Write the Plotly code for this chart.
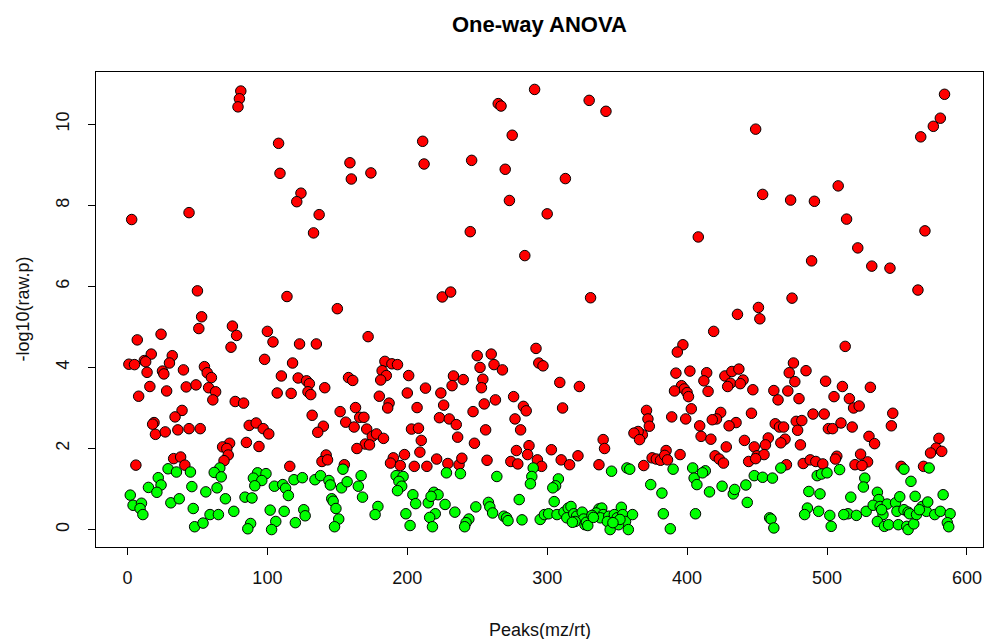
import plotly.graph_objects as go

# Peak index (mz/rt feature number) and -log10 raw p-value from one-way ANOVA
peak_index = [
    81, 80, 79, 3, 44, 50, 53, 51, 75, 78, 74,
    7, 24, 17, 32, 12, 13, 1, 5, 30, 14, 25, 26, 40, 55, 57, 60, 16, 28, 8, 42, 49, 58, 63, 61, 77, 83,
    39, 34, 19, 18, 20, 27, 36, 44, 52, 73, 68, 71, 72, 69, 33, 38, 41, 6,
    29, 35, 45, 66, 62, 67, 22, 24, 15, 21, 46, 56, 64, 2, 4, 10, 9, 11, 31, 37, 47, 70, 76, 59, 65, 48, 54,
    100, 104, 123, 135, 172, 98, 118, 110, 122, 128, 130, 129, 131, 107, 117, 141, 158, 161, 184, 189, 182,
    185, 181, 180, 187, 186, 132, 140, 136, 152, 163, 156, 162, 166, 169, 171, 175, 178, 183, 170, 173, 164,
    85, 87, 92, 97, 101, 94, 142, 139, 143, 116, 155, 190, 188,
    108, 109, 124, 121, 137, 133, 159, 160, 174, 114, 150,
    154, 93, 99, 90, 96, 91, 105, 111, 113, 115, 119, 125, 134, 138, 144, 145, 153, 157, 165, 167, 168, 84,
    89, 146, 147, 149, 151, 148, 102, 112, 106, 103, 120, 126, 127, 88, 86, 179, 177,
    291, 265, 267, 275, 211, 212, 246, 270, 273, 300, 245, 284, 225, 231,
    292, 250, 260, 294, 297, 193, 252, 262, 268, 201, 233, 240, 232, 254, 253, 213, 200, 224, 226, 276, 283,
    285, 255, 263, 207, 247, 223, 230, 235, 236, 277, 281, 256, 203, 208, 210, 209, 248, 198, 195, 205, 214,
    221, 229, 237, 239, 257, 278, 287, 286, 274, 279, 293, 296,
    228, 238, 192, 197, 194, 196, 193, 264, 290, 289, 288, 204, 206, 199, 202, 215, 219, 222, 217, 220, 216,
    218, 227, 234, 244, 242, 241, 249, 258, 259, 261, 269, 271, 272, 280, 282, 295, 298,
    330, 342, 313, 408, 331,
    397, 393, 309, 323, 392, 402, 396, 398, 400, 391, 401, 311, 403, 371, 372, 373, 368, 365, 362, 366, 389,
    399, 303, 310, 316, 322, 340, 341, 337, 369, 375, 378, 381, 385, 384, 386, 395,
    346, 357, 359, 390, 404, 405, 407, 308, 306, 304, 374, 382, 305,
    301, 307, 312, 315, 317, 314, 319, 321, 325, 326, 320, 327, 328, 329, 318,
    337, 339, 335, 340, 338, 344, 343, 345, 348, 350, 353, 354, 356, 351, 358, 361, 352, 347, 332, 333,
    383, 388, 406,
    449, 454, 474, 491, 508, 514, 489, 475, 451, 452, 436, 419, 513,
    476, 473, 477, 485, 414, 412, 415, 427, 432, 437, 440, 431, 429, 438, 447, 462, 465, 472, 480, 499, 505,
    511, 446, 424, 421, 418, 435, 430, 409, 410, 417, 463, 466, 469, 478, 482, 479, 490, 498, 501, 504, 510,
    441, 448, 458, 456, 470, 467, 428, 481, 420, 423, 426, 444, 450, 455, 449, 471, 483, 488, 492, 497, 507,
    506,
    413, 411, 416, 425, 433, 434, 442, 443, 448, 454, 461, 467, 459, 460, 462, 487, 495, 486, 484, 494, 502,
    503, 493, 496, 500, 509, 515,
    584, 581, 576, 567, 570, 522, 532, 545, 565,
    531, 516, 519, 523, 518, 547, 546, 530, 534, 524, 529, 520, 525, 580, 578, 574, 582, 553, 569,
    555, 573, 527, 526, 560, 517, 512, 521, 528,
    536, 537, 533, 538, 540, 536, 541, 544, 543, 549, 551, 550, 552, 555, 558, 559, 557, 558, 562, 564, 563,
    568, 571, 572, 577, 581, 583, 588, 586, 587, 566, 539,
]

neg_log10_p = [
    10.82, 10.63, 10.43, 7.65, 7.82, 5.89, 5.25, 4.96, 5.02, 4.79, 4.50,
    4.68, 4.82, 4.33, 4.29, 4.17, 4.14, 4.08, 4.07, 4.11, 3.88, 3.91, 3.84, 3.94, 4.02, 3.87, 3.75, 3.53, 3.42,
    3.29, 3.52, 3.57, 3.50, 3.40, 3.20, 3.16, 3.12,
    2.94, 2.78, 2.64, 2.60, 2.35, 2.41, 2.46, 2.49, 2.49, 2.13, 2.04, 2.00, 1.84, 1.70, 1.75, 1.79, 1.59, 1.59,
    1.50, 1.42, 1.42, 1.52, 1.41, 1.30, 1.28, 1.10, 1.04, 0.92, 1.06, 0.93, 1.03, 0.85, 0.60, 0.65, 0.52, 0.37,
    0.66, 0.76, 0.52, 0.76, 0.45, 0.37, 0.37, 0.07, 0.16,
    4.89, 4.63, 4.58, 4.58, 4.76, 4.20, 4.11, 3.79, 3.74, 3.67, 3.60, 3.40, 3.33, 3.37, 3.36, 3.50, 3.75, 3.68,
    4.15, 4.09, 3.92,
    3.80, 3.69, 3.29, 3.12, 3.00, 2.82, 2.55, 2.40, 2.91, 3.01, 2.65, 2.53, 2.77, 2.77, 2.48, 2.30, 2.36, 2.25,
    2.11, 2.09, 2.00,
    2.15, 2.57, 2.63, 2.49, 2.36, 2.05, 1.84, 1.68, 1.72, 1.56, 1.60, 1.77, 1.64,
    9.53, 8.79, 8.30, 8.09, 7.77, 7.32, 9.05, 8.65, 8.80, 5.75, 5.45,
    1.49, 1.40, 1.38, 1.27, 1.21, 1.08, 1.07, 1.11, 1.02, 0.84, 1.23, 1.28, 1.23, 1.33, 1.21, 1.10, 1.03, 1.18,
    1.07, 1.33, 0.80, 0.80,
    0.78, 0.76, 0.70, 0.52, 0.26, 0.07, 0.48, 0.45, 0.20, 0.00, 0.17, 0.49, 0.34, 0.15, 0.02, 0.57, 0.37,
    10.86, 10.51, 10.45, 9.73, 9.58, 9.02, 9.11, 8.89, 8.12, 7.79, 7.35, 6.76, 5.74, 5.86,
    4.47, 4.29, 4.33, 4.11, 4.04, 4.07, 4.00, 4.07, 3.94, 3.80, 3.79, 3.70, 3.55, 3.71, 3.50, 3.49, 3.37, 3.37,
    3.07, 3.28, 3.04,
    2.93, 3.10, 3.20, 3.01, 2.91, 2.76, 2.73, 2.59, 2.28, 2.73, 2.46, 2.46, 2.48, 2.50, 2.20, 1.91, 2.13, 1.85,
    1.58, 1.56, 1.56,
    1.74, 1.63, 1.60, 1.76, 1.71, 1.95, 2.07, 1.85, 1.68, 1.62, 1.72, 1.56,
    1.40, 1.38, 1.33, 1.31, 1.19, 1.07, 0.96, 1.31, 1.52, 1.31, 1.13, 0.86, 0.64, 0.39, 0.10, 0.66, 0.92, 0.86,
    0.82, 0.39, 0.30,
    0.07, 0.62, 0.43, 0.26, 0.17, 0.07, 0.56, 0.67, 0.56, 0.41, 0.33, 0.29, 0.22, 0.74, 0.24, 0.25, 0.37,
    10.59, 10.32, 8.66, 7.22, 5.72,
    4.56, 4.38, 3.63, 3.53, 3.86, 3.91, 3.55, 3.47, 3.38, 3.42, 3.28, 3.00, 2.98, 2.94, 2.73, 2.55, 2.34, 2.42,
    2.38, 2.22, 2.78,
    2.73, 1.97, 1.72, 1.60, 1.82, 2.22, 2.00, 1.60, 1.58, 1.77, 1.74, 1.71, 1.95, 1.83, 1.72, 1.85,
    1.44, 1.52, 1.49, 1.49, 1.52, 1.27, 1.11, 1.25, 1.08, 1.03, 1.11, 0.90, 0.69,
    0.39, 0.37, 0.43, 0.53, 0.57, 0.29, 0.39, 0.33, 0.43, 0.26, 0.20, 0.12, 0.18, 0.10, 0.18,
    0.51, 0.53, 0.41, 0.37, 0.29, 0.33, 0.20, 0.00, 0.37, 0.29, 0.55, 0.37, 0.20, 0.12, 0.00, 0.37, 0.25, 0.17,
    0.35, 0.30,
    0.39, 0.02, 0.39,
    9.88, 8.27, 8.13, 8.10, 8.48, 7.66, 6.63, 5.71, 5.48, 5.20, 5.31, 4.89, 4.52,
    4.11, 3.87, 3.65, 3.92, 3.87, 3.67, 3.41, 3.79, 3.90, 3.96, 3.69, 3.61, 3.53, 3.60, 3.45, 3.43, 3.20, 3.42,
    3.23, 3.66, 3.28,
    3.53, 2.87, 2.89, 2.73, 2.71, 2.64, 2.56, 2.56, 2.30, 2.23, 2.61, 2.53, 2.53, 2.67, 2.69, 2.45, 2.85, 2.85,
    2.49, 2.49, 2.63,
    2.20, 2.04, 2.26, 2.09, 2.23, 2.14, 2.04, 2.09, 1.82, 1.74, 1.64, 1.68, 1.82, 1.85, 1.75, 1.60, 1.63, 1.72,
    1.68, 1.62, 1.81,
    1.74,
    1.45, 1.40, 0.93, 1.07, 0.88, 0.99, 1.10, 0.67, 1.33, 1.29, 1.27, 1.52, 0.29, 0.26, 0.04, 0.94, 0.88, 0.53,
    0.37, 0.45, 0.35,
    0.08, 1.33, 1.37, 1.40, 1.48, 0.39,
    10.74, 10.15, 9.95, 9.69, 7.37, 6.95, 6.50, 6.45, 5.91,
    3.51, 3.23, 3.00, 3.05, 2.53, 2.87, 2.56, 2.30, 2.12, 1.86, 1.67, 1.60, 1.58, 2.25, 2.01, 1.89, 1.93, 1.56,
    1.56,
    1.49, 1.52, 1.27, 1.05, 1.19, 0.80, 0.37, 0.35, 0.45,
    0.92, 0.74, 0.60, 0.57, 0.37, 0.20, 0.08, 0.12, 0.63, 0.66, 0.12, 0.45, 0.81, 0.49, 0.43, 0.39, 0.08, 0.00,
    0.14, 0.37, 0.82,
    0.57, 0.45, 0.68, 0.37, 0.45, 0.86, 0.39, 0.17, 0.07, 0.49, 0.49,
]

# Significance cut-off on -log10(raw p) (adjusted p < 0.05)
sig_cutoff = 1.54

x_ticks = [0, 100, 200, 300, 400, 500, 600]
y_ticks = [0, 2, 4, 6, 8, 10]

fill_colors = ["#FF0000" if v > sig_cutoff else "#00FF00" for v in neg_log10_p]

fig = go.Figure()
fig.add_trace(go.Scatter(
    x=peak_index,
    y=neg_log10_p,
    mode="markers",
    marker=dict(size=10.5, color=fill_colors, line=dict(color="black", width=1)),
    hoverinfo="x+y",
    showlegend=False,
))

font_family = "Liberation Sans, Arial, Helvetica, sans-serif"

axis_common = dict(
    showgrid=False,
    zeroline=False,
    showline=True,
    mirror=True,
    linecolor="black",
    linewidth=1,
    ticks="outside",
    ticklen=7,
    tickwidth=1,
    tickcolor="black",
    tickfont=dict(family=font_family, size=18, color="#111"),
)

fig.update_layout(
    width=989,
    height=639,
    autosize=False,
    margin=dict(l=96, r=6, t=72, b=92),
    paper_bgcolor="white",
    plot_bgcolor="white",
    xaxis=dict(range=[-22.5, 611.5], tickvals=x_ticks, ticklabelstandoff=7, **axis_common),
    yaxis=dict(range=[-0.43, 11.29], tickvals=y_ticks, tickangle=-90, ticklabelstandoff=12, **axis_common),
    annotations=[
        dict(text="<b>One-way ANOVA</b>", xref="paper", yref="paper", x=0.5, y=1.099,
             xanchor="center", yanchor="middle", showarrow=False,
             font=dict(family=font_family, size=22, color="black")),
        dict(text="Peaks(mz/rt)", xref="paper", yref="paper", x=0.5, y=-0.175,
             xanchor="center", yanchor="middle", showarrow=False,
             font=dict(family=font_family, size=18, color="#111")),
        dict(text="-log10(raw.p)", xref="paper", yref="paper", x=-0.0834, y=0.5,
             xanchor="center", yanchor="middle", textangle=-90, showarrow=False,
             font=dict(family=font_family, size=18, color="#111")),
    ],
)

fig.write_html("out.html")
